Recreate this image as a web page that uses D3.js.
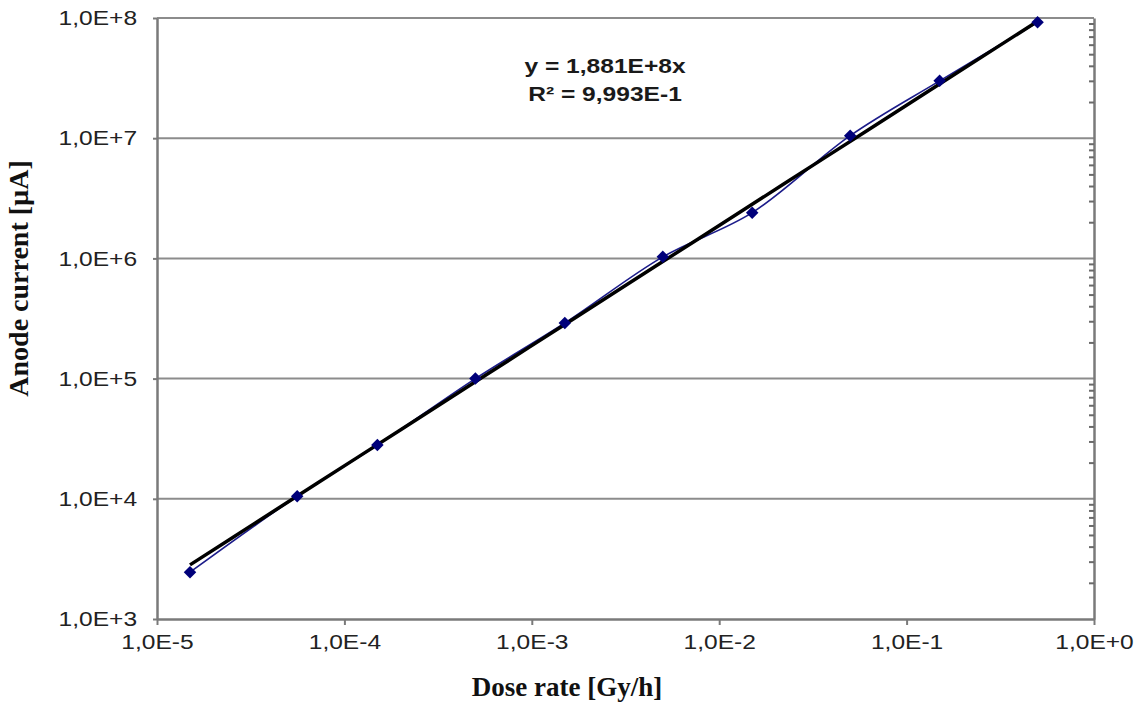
<!DOCTYPE html>
<html>
<head>
<meta charset="utf-8">
<script src="https://cdn.jsdelivr.net/npm/d3@7"></script>
<style>
  body { margin: 0; background: #fff; }
  #chart svg { display: block; }
</style>
</head>
<body>
<div id="chart"></div>
<script>
// measured points (dose rate in Gy/h, anode current in µA)
var doseRate = [1.5e-5, 5.6e-5, 1.5e-4, 5.0e-4, 1.5e-3, 5.0e-3, 1.5e-2, 5.0e-2, 1.5e-1, 5.0e-1];
var anodeCurrent = [2.45e3, 1.05e4, 2.8e4, 1.0e5, 2.9e5, 1.03e6, 2.4e6, 1.05e7, 3.0e7, 9.2e7];

// linear fit through origin, as printed on the chart
var slope = 1.881e8;
var equationLines = ["y = 1,881E+8x", "R\u00b2 = 9,993E-1"];

var xTicks = [1e-5, 1e-4, 1e-3, 1e-2, 1e-1, 1e0];
var xTickLabels = ["1,0E-5", "1,0E-4", "1,0E-3", "1,0E-2", "1,0E-1", "1,0E+0"];
var yTicks = [1e3, 1e4, 1e5, 1e6, 1e7, 1e8];
var yTickLabels = ["1,0E+3", "1,0E+4", "1,0E+5", "1,0E+6", "1,0E+7", "1,0E+8"];

var xTitle = "Dose rate [Gy/h]";
var yTitle = "Anode current [\u00b5A]";

function drawChart() {
  var margin = { top: 18, right: 52, bottom: 85, left: 157 };
  var width = 1146 - margin.left - margin.right;
  var height = 704 - margin.top - margin.bottom;
  var stretch = "scale(1.17,1)";

  var svg = d3.select("#chart")
    .append("svg")
    .attr("width", width + margin.left + margin.right)
    .attr("height", height + margin.top + margin.bottom)
    .append("g")
    .attr("transform", "translate(" + margin.left + "," + margin.top + ")");

  var xScale = d3.scaleLog().domain([1e-5, 1]).range([0, width]);
  var yScale = d3.scaleLog().domain([1e3, 1e8]).range([height, 0]);

  // horizontal grid
  svg.selectAll(".grid")
    .data(yTicks.slice(1, -1))
    .enter()
    .append("line")
    .attr("x1", 0)
    .attr("x2", width)
    .attr("y1", d => yScale(d))
    .attr("y2", d => yScale(d))
    .attr("stroke", "#8c8c8c")
    .attr("stroke-width", 2);

  // top frame line
  svg.append("line")
    .attr("x1", 0).attr("x2", width)
    .attr("y1", 0).attr("y2", 0)
    .attr("stroke", "#8c8c8c")
    .attr("stroke-width", 2);

  // right axis with minor ticks pointing inward
  var minor = [];
  yTicks.forEach(function(t) {
    if (t < 1e8) for (var k = 2; k <= 9; k++) minor.push(t * k);
  });
  var right = svg.append("g")
    .attr("transform", "translate(" + width + ",0)")
    .call(d3.axisRight(yScale).tickValues(minor).tickSize(-5).tickSizeOuter(0).tickFormat(""));
  right.select(".domain").attr("stroke", "#7a7a7a").attr("stroke-width", 2.5);
  right.selectAll(".tick line").attr("stroke", "#6a6a6a").attr("stroke-width", 2);

  var xAxis = svg.append("g")
    .attr("transform", "translate(0," + height + ")")
    .call(d3.axisBottom(xScale).tickValues(xTicks).tickSize(6).tickSizeOuter(0)
      .tickFormat((d, i) => xTickLabels[i]));
  xAxis.select(".domain").attr("stroke", "#7a7a7a").attr("stroke-width", 2.5);
  xAxis.selectAll(".tick line").attr("stroke", "#7a7a7a").attr("stroke-width", 2);
  xAxis.selectAll("text")
    .attr("y", 15)
    .attr("dy", "0.71em")
    .attr("transform", stretch)
    .attr("font-family", "Liberation Sans, Arial, sans-serif")
    .attr("font-size", "21px")
    .attr("fill", "#222");

  var yAxis = svg.append("g")
    .call(d3.axisLeft(yScale).tickValues(yTicks).tickSize(4).tickSizeOuter(0)
      .tickFormat((d, i) => yTickLabels[i]));
  yAxis.select(".domain").attr("stroke", "#7a7a7a").attr("stroke-width", 2.5);
  yAxis.selectAll(".tick line").attr("stroke", "#7a7a7a").attr("stroke-width", 2);
  yAxis.selectAll("text")
    .attr("x", -17)
    .attr("transform", stretch)
    .attr("font-family", "Liberation Sans, Arial, sans-serif")
    .attr("font-size", "21px")
    .attr("fill", "#222");

  var points = doseRate.map((d, i) => ({ x: d, y: anodeCurrent[i] }));

  var line = d3.line()
    .x(d => xScale(d.x))
    .y(d => yScale(d.y))
    .curve(d3.curveMonotoneX);

  svg.append("path")
    .datum(points)
    .attr("d", line)
    .attr("fill", "none")
    .attr("stroke", "#1c1c8a")
    .attr("stroke-width", 1.6);

  // trend line y = slope * x
  var xMin = d3.min(doseRate), xMax = d3.max(doseRate);
  var trend = d3.range(0, 21).map(i => {
    var x = Math.pow(10, Math.log10(xMin) + (Math.log10(xMax) - Math.log10(xMin)) * i / 20);
    return { x: x, y: slope * x };
  });
  svg.append("path")
    .datum(trend)
    .attr("d", d3.line().x(d => xScale(d.x)).y(d => yScale(d.y)))
    .attr("fill", "none")
    .attr("stroke", "#000")
    .attr("stroke-width", 3.5);

  // square rotated 45deg, like the excel diamond marker
  svg.selectAll(".marker")
    .data(points)
    .enter()
    .append("path")
    .attr("d", d3.symbol().type(d3.symbolSquare).size(78))
    .attr("transform", d => "translate(" + xScale(d.x) + "," + yScale(d.y) + ") rotate(45)")
    .attr("fill", "#00007a");

  // equation label
  svg.append("g")
    .attr("transform", "translate(448,55)")
    .selectAll("text")
    .data(equationLines)
    .enter()
    .append("text")
    .attr("y", (d, i) => i * 28)
    .attr("transform", stretch)
    .attr("text-anchor", "middle")
    .attr("font-family", "Liberation Sans, Arial, sans-serif")
    .attr("font-weight", "bold")
    .attr("font-size", "21px")
    .attr("fill", "#1a1a1a")
    .text(d => d);

  svg.append("text")
    .attr("x", 410)
    .attr("y", height + 77)
    .attr("text-anchor", "middle")
    .attr("font-family", "Liberation Serif, Times New Roman, serif")
    .attr("font-weight", "bold")
    .attr("font-size", "27px")
    .attr("fill", "#111")
    .text(xTitle);

  svg.append("text")
    .attr("transform", "translate(-129," + (height / 2 - 40) + ") rotate(-90)")
    .attr("text-anchor", "middle")
    .attr("font-family", "Liberation Serif, Times New Roman, serif")
    .attr("font-weight", "bold")
    .attr("font-size", "28px")
    .attr("fill", "#111")
    .text(yTitle);
}

document.addEventListener('DOMContentLoaded', function() {
  drawChart();
});
</script>
</body>
</html>
